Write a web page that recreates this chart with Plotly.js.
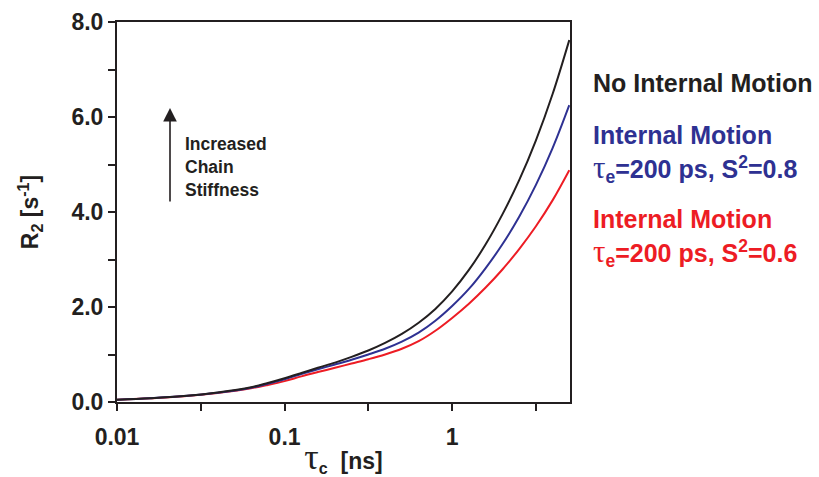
<!DOCTYPE html>
<html>
<head>
<meta charset="utf-8">
<script src="https://cdn.plot.ly/plotly-3.0.1.min.js"></script>
<style>
  html, body { margin: 0; padding: 0; background: #fff; }
  #chart { width: 819px; height: 477px; }
</style>
</head>
<body>
<div id="chart"></div>
<script>
// Correlation time tau_c in ns
const tauC = [0.01, 0.0158, 0.0251, 0.0398, 0.0631, 0.0794, 0.1, 0.126, 0.158, 0.2,
              0.251, 0.316, 0.398, 0.501, 0.631, 0.794, 1.0, 1.259, 1.585, 1.995,
              2.512, 3.162, 3.981, 5.0];

// Transverse relaxation rate R2 (s^-1)
const r2Rigid = [0.05, 0.08, 0.125, 0.20, 0.31, 0.40, 0.50, 0.61, 0.72, 0.83,
                 0.95, 1.085, 1.245, 1.435, 1.67, 1.96, 2.33, 2.78, 3.32, 3.95,
                 4.67, 5.51, 6.49, 7.62];
const r2S08   = [0.05, 0.08, 0.125, 0.195, 0.30, 0.385, 0.48, 0.59, 0.69, 0.79,
                 0.89, 1.00, 1.12, 1.27, 1.46, 1.71, 2.02, 2.38, 2.82, 3.32,
                 3.90, 4.57, 5.35, 6.25];
const r2S06   = [0.05, 0.08, 0.12, 0.19, 0.29, 0.36, 0.44, 0.54, 0.63, 0.72,
                 0.81, 0.90, 1.00, 1.12, 1.28, 1.50, 1.77, 2.07, 2.41, 2.79,
                 3.22, 3.70, 4.25, 4.88];

const xTickVals = [0.01, 0.0316, 0.1, 0.316, 1, 3.16];
const xTickText = ['0.01', '', '0.1', '', '1', ''];
const yTickVals = [0, 1, 2, 3, 4, 5, 6, 7, 8];
const yTickText = ['0.0', '', '2.0', '', '4.0', '', '6.0', '', '8.0'];

const cBlack = '#231f20';
const cBlue = '#2e3192';
const cRed = '#ed1c24';

const FONT = 'Liberation Sans, Arial, sans-serif';

function curve(y, color) {
  return {
    x: tauC, y: y, type: 'scatter', mode: 'lines',
    line: { color: color, width: 2, shape: 'spline', smoothing: 1 },
    hoverinfo: 'skip'
  };
}

const data = [curve(r2S06, cRed), curve(r2S08, cBlue), curve(r2Rigid, cBlack)];

// Greek tau drawn in a serif face, as in the original symbol font
const tau = (px) => `<span style="font-size:${px}px;font-family:'Liberation Serif';font-weight:normal">τ</span>`;
const tauE = (v) => `${tau(31)}<sub>e</sub>=200 ps, S<sup>2</sup>=${v}`;

function label(text, y, color) {
  return {
    xref: 'paper', yref: 'paper', x: 1.047, y: y,
    xanchor: 'left', yanchor: 'middle', showarrow: false, align: 'left',
    text: `<b>${text}</b>`, font: { family: FONT, size: 25, color: color }
  };
}

const layout = {
  width: 819, height: 477,
  margin: { l: 117, r: 249, t: 22, b: 75 },
  paper_bgcolor: '#fff', plot_bgcolor: '#fff',
  showlegend: false,
  font: { family: FONT, color: cBlack },
  xaxis: {
    type: 'log', range: [-2, Math.log10(5.05)],
    tickvals: xTickVals, ticktext: xTickText,
    ticks: 'outside', ticklen: 7, tickwidth: 2, tickcolor: cBlack,
    showline: true, linecolor: cBlack, linewidth: 2, mirror: true,
    showgrid: false, zeroline: false,
    ticklabelstandoff: 6,
    tickfont: { family: FONT, size: 23, color: cBlack, weight: 'bold' },
    title: {
      text: `<b>${tau(36)}<sub>c</sub>  [ns]</b>`,
      font: { family: FONT, size: 23, color: cBlack }, standoff: 6
    }
  },
  yaxis: {
    range: [0, 8],
    tickvals: yTickVals, ticktext: yTickText,
    ticks: 'outside', ticklen: 7, tickwidth: 2, tickcolor: cBlack,
    showline: true, linecolor: cBlack, linewidth: 2, mirror: true,
    showgrid: false, zeroline: false,
    tickfont: { family: FONT, size: 23, color: cBlack, weight: 'bold' },
    title: {
      text: '<b>R<sub>2</sub> [s<sup>-1</sup>]</b>',
      font: { family: FONT, size: 23, color: cBlack }, standoff: 26
    }
  },
  annotations: [
    {
      xref: 'paper', yref: 'paper', x: 0.117, y: 0.774,
      ax: 0, ay: 95, axref: 'pixel', ayref: 'pixel',
      showarrow: true, arrowhead: 2, arrowsize: 1.7, arrowwidth: 1.6,
      arrowcolor: cBlack, text: ''
    },
    {
      xref: 'paper', yref: 'paper', x: 0.146, y: 0.618,
      xanchor: 'left', yanchor: 'middle', showarrow: false, align: 'left',
      text: '<b>Increased<br>Chain<br>Stiffness</b>',
      font: { family: FONT, size: 17.5, color: cBlack }
    },
    label('No Internal Motion', 0.839, cBlack),
    label('Internal Motion', 0.703, cBlue),
    label(tauE('0.8'), 0.615, cBlue),
    label('Internal Motion', 0.482, cRed),
    label(tauE('0.6'), 0.394, cRed)
  ]
};

Plotly.newPlot('chart', data, layout, { staticPlot: true, displayModeBar: false });
</script>
</body>
</html>
